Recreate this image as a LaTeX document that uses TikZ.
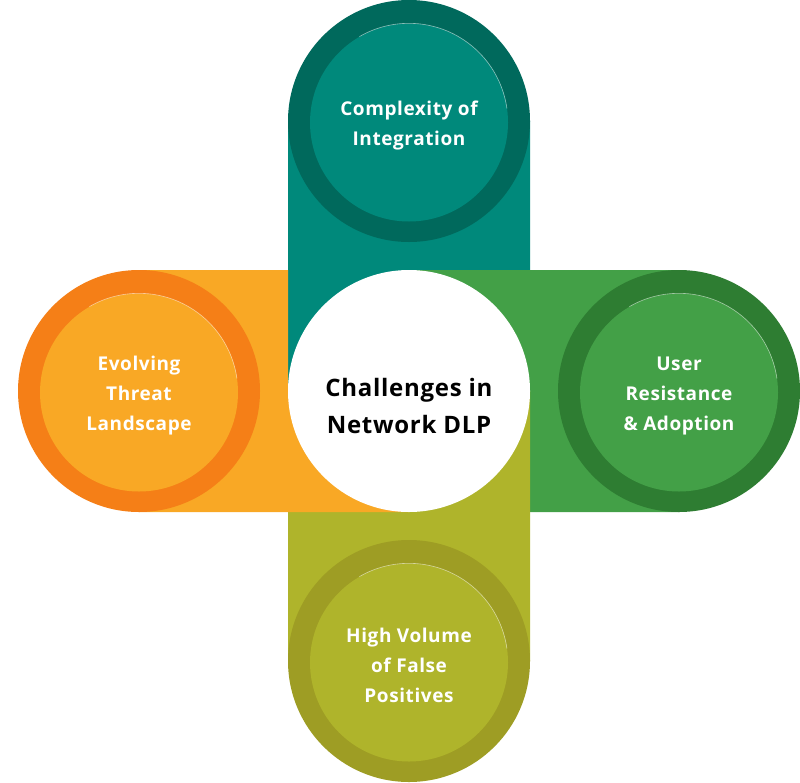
\documentclass[tikz,border=0pt]{standalone}
\usepackage{fontspec}
\newfontfamily\hubfont{Open Sans}[LetterSpace=3.0]
\definecolor{tealarm}{HTML}{00897B}
\definecolor{tealring}{HTML}{00695C}
\definecolor{greenarm}{HTML}{43A047}
\definecolor{greenring}{HTML}{2E7D32}
\definecolor{olivearm}{HTML}{AFB42B}
\definecolor{olivering}{HTML}{9E9D24}
\definecolor{orangearm}{HTML}{F9A825}
\definecolor{orangering}{HTML}{F57F17}

\begin{document}
\begin{tikzpicture}[
  x=1pt, y=-1pt,
  ring/.style={circle, minimum size=242pt, inner sep=0pt},
  disc/.style={circle, minimum size=198pt, inner sep=0pt, yshift=-1.5pt},
  glint/.style={draw=white, draw opacity=0.55, line width=0.6pt},
  caption/.style={align=center, text=white,
  font=\hubfont\bfseries\fontsize{19}{30}\selectfont},
  hub/.style={circle, fill=white, minimum size=242pt, inner sep=0pt},
  hubtext/.style={align=center, font=\hubfont\bfseries\fontsize{24}{37}\selectfont}
]
\useasboundingbox (0,0) rectangle (800,782);

% arms, each one also takes a quarter of the middle
\fill[tealarm] (288,121) rectangle (530,270) (288,270) rectangle (409,391);
\fill[greenarm] (530,270) rectangle (679,512) (409,270) rectangle (530,391);
\fill[olivearm] (288,512) rectangle (530,661) (409,391) rectangle (530,512);
\fill[orangearm] (139,270) rectangle (288,512) (288,391) rectangle (409,512);

% end circles
\node[ring, fill=tealring] (topring) at (409,121) {};
\node[disc, fill=tealarm] (top) at (topring) {};
\node[ring, fill=greenring] (rightring) at (679,391) {};
\node[disc, fill=greenarm] (right) at (rightring) {};
\node[ring, fill=olivering] (bottomring) at (409,661) {};
\node[disc, fill=olivearm] (bottom) at (bottomring) {};
\node[ring, fill=orangering] (leftring) at (139,391) {};
\node[disc, fill=orangearm] (left) at (leftring) {};

% thin light edge on the upper side of each disc
\foreach \d in {top,right,bottom,left}
  \draw[glint] (\d.120) arc[start angle=-120, end angle=-8, radius=99];

\node[caption] (toptext) at ([yshift=-3pt]top) {Complexity of\\Integration};
\node[caption] (righttext) at ([yshift=-3pt]right) {User\\Resistance\\\& Adoption};
\node[caption] (bottomtext) at ([yshift=-3pt]bottom) {High Volume\\of False\\Positives};
\node[caption] (lefttext) at ([yshift=-3pt]left) {Evolving\\Threat\\Landscape};

\node[hub] (centre) at (409,391) {};
\node[hubtext] (centretext) at ([yshift=-15pt]centre) {Challenges in\\Network DLP};
\end{tikzpicture}
\end{document}
